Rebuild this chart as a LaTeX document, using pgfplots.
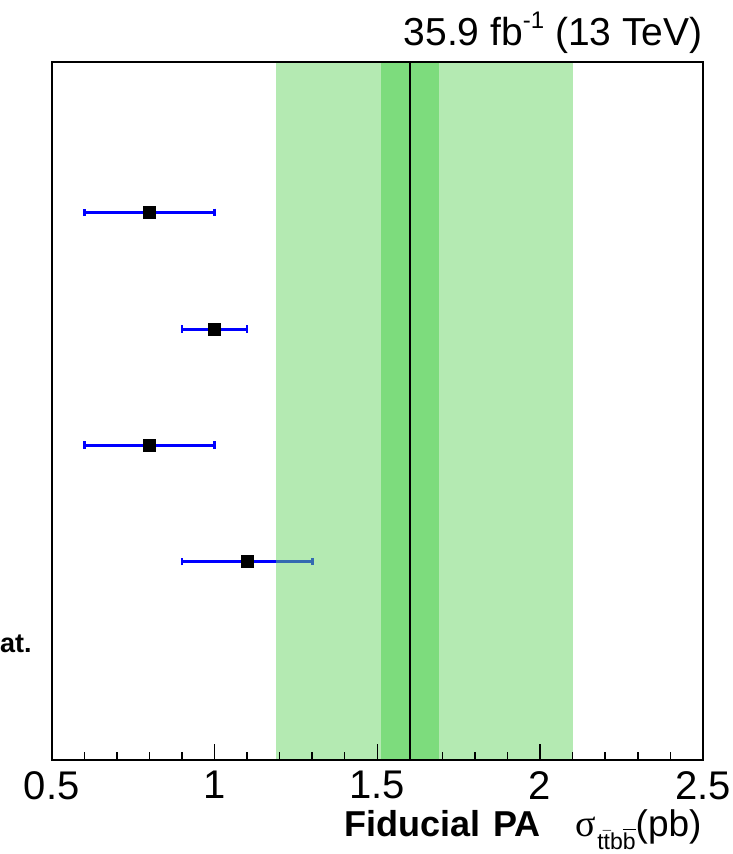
\documentclass[border=0pt]{standalone}
\usepackage{pgfplots}
\pgfplotsset{compat=1.18}
\usepackage{fontspec}
\setmainfont{Liberation Sans}
\newfontfamily\seriffont{Liberation Serif}
\definecolor{bandlight}{RGB}{105,213,101}
\definecolor{banddark}{RGB}{125,220,125}
\begin{document}
\begin{tikzpicture}
\begin{axis}[
  name=ax,
  scale only axis,
  width=325.6pt, height=349pt,
  xmin=0.5, xmax=2.5, ymin=0, ymax=6,
  axis on top,
  axis line style={line width=1pt},
  xtick={0.5,1,1.5,2,2.5},
  xticklabels={0.5,1,1.5,2,2.5},
  minor x tick num=4,
  ytick=\empty,
  xtick pos=left,
  tick align=inside,
  major tick length=8pt,
  minor tick length=4pt,
  every tick/.style={black, line width=0.75pt},
  xticklabel style={font=\fontsize{20}{20}\selectfont, inner sep=0pt, yshift=-5.5pt},
  /pgf/number format/assume math mode=true,
]
% error bars
\addplot[only marks, mark=none,
  error bars/.cd, x dir=both, x explicit,
  error bar style={draw=blue, line width=1.5pt},
  error mark=|,
  error mark options={draw=blue, line width=1.4pt, mark size=1.9pt}]
  coordinates {
    (0.8,4.705) +- (0.2,0)
    (1.0,3.702) +- (0.1,0)
    (0.8,2.705) +- (0.2,0)
    (1.1,1.702) +- (0.2,0)
  };
% central values
\addplot[only marks, mark=square*, mark size=3pt, black]
  coordinates {
    (0.8,4.705)
    (1.0,3.702)
    (0.8,2.705)
    (1.1,1.702)
  };
% bands
\addplot[draw=none, fill=bandlight, fill opacity=0.5]
  coordinates {(1.19,0) (2.1,0) (2.1,6) (1.19,6)} -- cycle;
\addplot[draw=none, fill=banddark]
  coordinates {(1.51,0) (1.69,0) (1.69,6) (1.51,6)} -- cycle;
\addplot[black, line width=1.2pt] coordinates {(1.6,0) (1.6,6)};
\end{axis}
% title
\node[anchor=base east, inner sep=0pt, font=\fontsize{19.5}{22}\selectfont]
  at ([yshift=8.3pt]ax.north east)
  {35.9 fb\raisebox{0.42em}{\fontsize{12}{12}\selectfont -1} (13 TeV)};
% x label
\node[anchor=base east, inner sep=0pt]
  at ([xshift=-0.5pt, yshift=-38.15pt]ax.south east)
  {{\fontsize{18}{20}\selectfont\bfseries Fiducial\hspace{6.5pt}PA}\hspace{17.5pt}{\fontsize{19}{20}\selectfont\seriffont σ}\hspace{0.6pt}\raisebox{-6.5pt}{\fontsize{11.5}{12}\selectfont t$\bar{\hbox{t}}$b$\overline{\hbox{b}}$}{\fontsize{18.5}{20}\selectfont (pb)}};
% cut-off legend text
\node[anchor=base east, inner sep=0pt, font=\fontsize{13.5}{16}\selectfont\bfseries]
  at ([xshift=-9.85pt, yshift=53.35pt]ax.south west) {at.};
\pgfresetboundingbox
\path[use as bounding box] ([shift={(-25.85pt,-47.15pt)}]ax.south west) rectangle ([shift={(340.15pt,379.85pt)}]ax.south west);
\end{tikzpicture}
\end{document}
